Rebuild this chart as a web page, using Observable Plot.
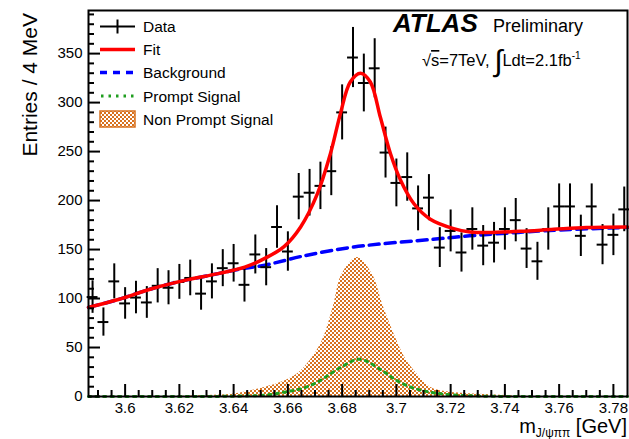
<!DOCTYPE html>
<html>
<head>
<meta charset="utf-8">
<script src="https://cdn.jsdelivr.net/npm/d3@7"></script>
<script src="https://cdn.jsdelivr.net/npm/@observablehq/plot@0.6"></script>
<style>
  html, body { margin: 0; padding: 0; background: #fff; }
  svg { display: block; }
</style>
</head>
<body>
<div id="chart"></div>
<script>
// Bin centres (GeV), 4 MeV bins
const binMass = [
  3.588, 3.592, 3.596, 3.600, 3.604, 3.608, 3.612, 3.616, 3.620, 3.624,
  3.628, 3.632, 3.636, 3.640, 3.644, 3.648, 3.652, 3.656, 3.660, 3.664,
  3.668, 3.672, 3.676, 3.680, 3.684, 3.688, 3.692, 3.696, 3.700, 3.704,
  3.708, 3.712, 3.716, 3.720, 3.724, 3.728, 3.732, 3.736, 3.740, 3.744,
  3.748, 3.752, 3.756, 3.760, 3.764, 3.768, 3.772, 3.776, 3.780, 3.784
];
// Entries per bin
const entries = [
  101.5, 76, 117.5, 95, 101, 96, 113, 111, 117, 121,
  105, 117.5, 131, 136, 114, 145, 132, 173, 148, 204,
  208, 215, 230, 290, 346, 320, 335, 249, 218, 224,
  192, 203, 152, 169, 147, 171, 154, 157, 171, 180,
  151, 138, 171, 194, 194, 164, 194, 155, 165, 191
];
// Error bar half-lengths
const errors = [
  16.6, 14.4, 17.9, 16.1, 16.6, 16.2, 17.5, 17.4, 17.8, 18.2,
  16.9, 17.9, 18.9, 19.2, 17.6, 19.9, 19.0, 21.7, 20.1, 23.6,
  23.8, 24.2, 25.0, 28.1, 30.7, 29.5, 30.2, 26.0, 24.4, 24.7,
  22.9, 23.5, 20.3, 21.4, 20.0, 21.6, 20.5, 20.7, 21.6, 22.1,
  20.3, 19.4, 21.6, 23.0, 23.0, 21.1, 23.0, 20.5, 21.2, 22.8
];
const halfBin = 0.002;

// Total fit
const fitMass = [3.5865, 3.5975, 3.6098, 3.622, 3.6343, 3.6441, 3.6515, 3.6586, 3.6647, 3.6709,
  3.6757, 3.6794, 3.683, 3.6868, 3.6904, 3.6941, 3.6978, 3.7015, 3.7064, 3.7125,
  3.7211, 3.7272, 3.7334, 3.7456, 3.758, 3.770, 3.7852];
const fitEntries = [91, 99, 110, 118.5, 125.4, 132, 141, 153, 173, 207,
  248, 289, 321, 330, 321, 285, 248, 221, 197, 181,
  171.4, 168, 167.3, 168.6, 170.6, 172.4, 173];

// Background component
const bkgMass = [3.5865, 3.5975, 3.6098, 3.622, 3.6343, 3.6441, 3.6515, 3.665, 3.6843, 3.7136,
  3.727, 3.745, 3.760, 3.7852];
const bkgEntries = [91, 99, 110, 118.5, 125.4, 131, 134, 143, 152.6, 160.5,
  164, 167.5, 170, 172.5];

// Prompt signal component
const promptMass = [3.5865, 3.63, 3.645, 3.652, 3.6586, 3.6647, 3.6709, 3.6757, 3.6807, 3.6865,
  3.6947, 3.7001, 3.7064, 3.7125, 3.72, 3.73, 3.745, 3.7852];
const promptEntries = [0, 0, 0.6, 1.5, 4.4, 7.8, 14.6, 23.2, 31.7, 38,
  26.6, 16.3, 8.5, 4.4, 1.8, 0.5, 0, 0];

// Non-prompt signal component
const nonPromptMass = [3.62, 3.63, 3.64, 3.6518, 3.658, 3.6635, 3.668, 3.6727, 3.6767, 3.680,
  3.6856, 3.6911, 3.6953, 3.7002, 3.7035, 3.7076, 3.7125, 3.718, 3.725, 3.74, 3.75];
const nonPromptEntries = [0, 1, 2.5, 9.5, 15, 23, 36, 57, 91, 125,
  142, 125, 91, 57, 38, 23, 9.5, 5, 3, 1, 0];

// Axis ticks
const xMajorTicks = [3.6, 3.62, 3.64, 3.66, 3.68, 3.7, 3.72, 3.74, 3.76, 3.78];
const xMinorTicks = [3.59, 3.595, 3.605, 3.61, 3.615, 3.625, 3.63, 3.635, 3.645, 3.65, 3.655,
  3.665, 3.67, 3.675, 3.685, 3.69, 3.695, 3.705, 3.71, 3.715, 3.725, 3.73, 3.735,
  3.745, 3.75, 3.755, 3.765, 3.77, 3.775];
const yMajorTicks = [0, 50, 100, 150, 200, 250, 300, 350];
const yMinorTicks = [10, 20, 30, 40, 60, 70, 80, 90, 110, 120, 130, 140, 160, 170, 180, 190,
  210, 220, 230, 240, 260, 270, 280, 290, 310, 320, 330, 340, 360, 370, 380, 390];

const W = 629, H = 439;
const margin = {top: 10, right: 2, bottom: 43, left: 88};
const plotW = W - margin.left - margin.right;
const plotH = H - margin.top - margin.bottom;

const points = binMass.map((m, i) => ({m, n: entries[i], e: errors[i]}));
const pairs = (xs, ys) => xs.map((x, i) => ({x, y: ys[i]}));
const fit = pairs(fitMass, fitEntries);
const bkg = pairs(bkgMass, bkgEntries);
const prompt = pairs(promptMass, promptEntries);
const nonPrompt = pairs(nonPromptMass, nonPromptEntries);

const font = "'Liberation Sans', Arial, Helvetica, sans-serif";
const orange = "#d8721f";

const chart = Plot.plot({
  width: W,
  height: H,
  marginTop: margin.top,
  marginRight: margin.right,
  marginBottom: margin.bottom,
  marginLeft: margin.left,
  style: {fontFamily: font, fontSize: "15px", color: "black", background: "white", overflow: "visible"},
  x: {domain: [3.5865, 3.7852]},
  y: {domain: [0, 394]},
  marks: [
    Plot.areaY(nonPrompt, {x: "x", y: "y", fill: "url(#np-hatch)", curve: "catmull-rom"}),
    Plot.line(prompt, {x: "x", y: "y", stroke: "#1f9e1f", strokeWidth: 3, strokeDasharray: "2.5,5", curve: "catmull-rom"}),
    Plot.line(bkg, {x: "x", y: "y", stroke: "#0000ff", strokeWidth: 3.5, strokeDasharray: "10,6", curve: "catmull-rom"}),
    Plot.ruleX(points, {x: "m", y1: d => d.n - d.e, y2: d => d.n + d.e, stroke: "black", strokeWidth: 2}),
    Plot.ruleY(points, {y: "n", x1: d => d.m - halfBin, x2: d => d.m + halfBin, stroke: "black", strokeWidth: 2}),
    Plot.line(fit, {x: "x", y: "y", stroke: "#ff0000", strokeWidth: 3.5, curve: "catmull-rom"}),
    Plot.tickX(xMinorTicks, {x: d => d, insetTop: plotH - 6, stroke: "black", strokeWidth: 2}),
    Plot.tickX(xMajorTicks, {x: d => d, insetTop: plotH - 12, stroke: "black", strokeWidth: 2}),
    Plot.tickY(yMinorTicks, {y: d => d, insetRight: plotW - 6, stroke: "black", strokeWidth: 2}),
    Plot.tickY(yMajorTicks, {y: d => d, insetRight: plotW - 12, stroke: "black", strokeWidth: 2}),
    Plot.axisX(xMajorTicks, {tickSize: 0, tickPadding: 6, tickFormat: d => String(d), label: null}),
    Plot.axisY(yMajorTicks, {tickSize: 0, tickPadding: 6, tickFormat: d => String(d), label: null}),
    Plot.frame({stroke: "black", strokeWidth: 2})
  ]
});

document.getElementById("chart").appendChild(chart);

const svg = d3.select(chart);

// Checkered fill for the non-prompt component
const defs = svg.insert("defs", ":first-child");
const pat = defs.append("pattern")
  .attr("id", "np-hatch").attr("patternUnits", "userSpaceOnUse")
  .attr("width", 4).attr("height", 4);
pat.append("rect").attr("width", 4).attr("height", 4).attr("fill", "#ffffff");
pat.append("rect").attr("width", 2).attr("height", 2).attr("fill", orange);
pat.append("rect").attr("x", 2).attr("y", 2).attr("width", 2).attr("height", 2).attr("fill", orange);

const txt = svg.append("g")
  .attr("font-family", font).attr("fill", "black").attr("text-anchor", "start");

// Axis titles
txt.append("text")
  .attr("transform", "translate(37,13) rotate(-90)")
  .attr("text-anchor", "end")
  .attr("font-size", 21)
  .text("Entries / 4 MeV");

const xt = txt.append("text")
  .attr("x", 627).attr("y", 433)
  .attr("text-anchor", "end")
  .attr("font-size", 20);
xt.append("tspan").text("m");
xt.append("tspan").attr("font-size", 12).attr("dy", 3.5).text("J/ψππ");
xt.append("tspan").attr("dy", -3.5).text(" [GeV]");

// Experiment label
txt.append("text").attr("x", 393).attr("y", 32)
  .attr("font-size", 26).attr("font-weight", "bold").attr("font-style", "italic")
  .text("ATLAS");
txt.append("text").attr("x", 493).attr("y", 32)
  .attr("font-size", 18).text("Preliminary");

const lumi = txt.append("text").attr("x", 422).attr("y", 66).attr("font-size", 16.5);
lumi.append("tspan").text("√");
lumi.append("tspan").style("text-decoration", "overline").text("s");
lumi.append("tspan").text("=7TeV, ");
lumi.append("tspan").attr("font-size", 30).attr("dy", 5).text("∫");
lumi.append("tspan").attr("dy", -5).text("Ldt=2.1fb");
lumi.append("tspan").attr("font-size", 10).attr("dy", -7).text("-1");

// Legend
const legendItems = ["Data", "Fit", "Background", "Prompt Signal", "Non Prompt Signal"];
const legendY = [26.5, 49.5, 72.5, 96, 119];
const lg = svg.append("g").attr("text-anchor", "start");
const lx0 = 100, lx1 = 135;
lg.append("line").attr("x1", lx0).attr("x2", lx1).attr("y1", legendY[0]).attr("y2", legendY[0])
  .attr("stroke", "black").attr("stroke-width", 2);
lg.append("line").attr("x1", 117.5).attr("x2", 117.5).attr("y1", legendY[0] - 7).attr("y2", legendY[0] + 7)
  .attr("stroke", "black").attr("stroke-width", 2);
lg.append("line").attr("x1", lx0).attr("x2", lx1).attr("y1", legendY[1]).attr("y2", legendY[1])
  .attr("stroke", "#ff0000").attr("stroke-width", 3.5);
lg.append("line").attr("x1", lx0).attr("x2", lx1).attr("y1", legendY[2]).attr("y2", legendY[2])
  .attr("stroke", "#0000ff").attr("stroke-width", 3.5).attr("stroke-dasharray", "7,6");
lg.append("line").attr("x1", lx0 + 1).attr("x2", lx1).attr("y1", legendY[3]).attr("y2", legendY[3])
  .attr("stroke", "#1f9e1f").attr("stroke-width", 3).attr("stroke-dasharray", "2.5,5");
lg.append("rect").attr("x", lx0).attr("y", legendY[4] - 8).attr("width", lx1 - lx0).attr("height", 16)
  .attr("fill", "url(#np-hatch)").attr("stroke", orange).attr("stroke-width", 1.5);
legendItems.forEach((t, i) => {
  lg.append("text").attr("x", 143).attr("y", legendY[i] + 5.5)
    .attr("font-family", font).attr("font-size", 15.5).attr("text-anchor", "start").text(t);
});
</script>
</body>
</html>
